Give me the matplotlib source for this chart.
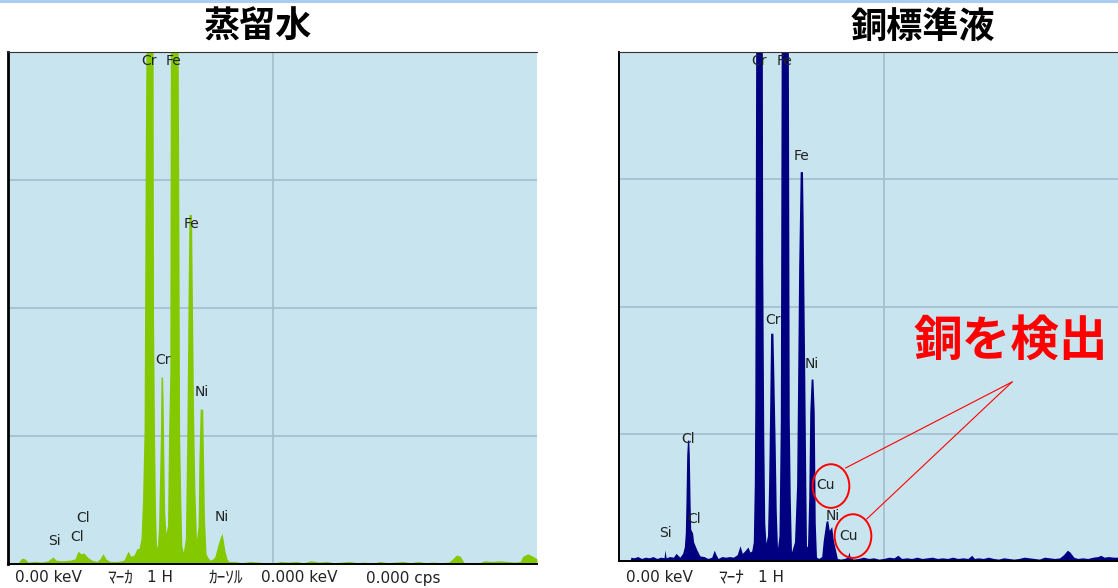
import matplotlib
matplotlib.use('Agg')
import matplotlib.pyplot as plt
from matplotlib.patches import Ellipse, Rectangle

# EDX spectra: energy (keV) vs intensity (grid units, 4 = full scale)
water_kev = [0.00, 0.306, 0.384, 0.463, 0.58, 0.698, 0.973, 1.247, 1.482, 1.678, 1.796, 2.031,
             2.345, 2.541, 2.659, 2.776, 2.894, 3.051, 3.208, 3.404, 3.522, 3.639, 3.757, 3.914,
             4.227, 4.463, 4.62, 4.737, 4.855, 4.973,
             5.051, 5.13, 5.19, 5.25, 5.30, 5.34, 5.60, 5.62, 5.66, 5.70, 5.74,
             5.776, 5.82, 5.86, 5.89, 5.915, 5.975, 5.995, 6.02, 6.06, 6.11,
             6.17, 6.21, 6.26, 6.285, 6.57, 6.595, 6.645, 6.69, 6.73, 6.788,
             6.87, 6.93, 6.97, 7.01, 7.11, 7.13, 7.19, 7.24, 7.306,
             7.37, 7.40, 7.45, 7.55, 7.575, 7.62, 7.68, 7.757,
             7.835, 7.953, 8.031, 8.149, 8.227, 8.306, 8.345, 8.424, 8.502, 8.580,
             8.8, 9.1, 9.4, 9.7, 10.0, 10.3, 10.6, 10.9, 11.2, 11.5, 11.8, 12.1, 12.4, 12.7,
             13.0, 13.3, 13.6, 13.9, 14.2, 14.5, 14.8, 15.1, 15.4, 15.7, 16.0, 16.3, 16.6,
             16.9, 17.2, 17.35, 17.5, 17.65, 17.8, 18.1, 18.4, 18.6, 18.9, 19.2, 19.5, 19.8,
             20.0, 20.1, 20.3, 20.5, 20.66]
water_cps = [0, 0, 0.03, 0.045, 0.04, 0.015, 0.02, 0.015, 0.025, 0.055, 0.03, 0.025,
             0.03, 0.04, 0.10, 0.08, 0.085, 0.05, 0.03, 0.02, 0.04, 0.08, 0.04, 0.02,
             0.02, 0.03, 0.10, 0.06, 0.07, 0.12,
             0.12, 0.2, 0.5, 1.05, 3.3, 4.5, 4.5, 1.95, 1.0, 0.4, 0.13,
             0.15, 0.3, 0.7, 1.0, 1.46, 1.46, 1.3, 0.9, 0.4, 0.24,
             0.3, 1.0, 1.5, 4.5, 4.5, 3.7, 1.0, 0.5, 0.15, 0.09,
             0.2, 1.05, 1.97, 2.73, 2.73, 2.35, 1.2, 0.6, 0.19,
             0.3, 0.8, 1.21, 1.21, 0.9, 0.35, 0.08, 0.05,
             0.03, 0.04, 0.06, 0.15, 0.2, 0.24, 0.2, 0.1, 0.04, 0.02,
             0.02, 0.01, 0.02, 0.015, 0.01, 0.005, 0.02, 0.015, 0.02, 0.01, 0.025, 0.015, 0.02, 0.01,
             0.015, 0.02, 0.01, 0.015, 0.005, 0.02, 0.01, 0.015, 0.02, 0.01, 0.02, 0.01, 0.015,
             0.01, 0.015, 0.04, 0.07, 0.06, 0.01, 0.005, 0.01, 0.025, 0.02, 0.025, 0.02, 0.015,
             0.02, 0.06, 0.08, 0.06, 0.04]

copper_kev = [0.00, 0.35, 0.38, 0.5, 0.65, 0.8, 0.95, 1.1, 1.25, 1.4, 1.55, 1.68, 1.72, 1.76,
              1.9, 2.05, 2.15, 2.25,
              2.30, 2.41, 2.475, 2.514, 2.541, 2.569, 2.60, 2.65, 2.671, 2.70, 2.725, 2.80,
              2.84, 2.961, 3.09,
              3.25, 3.4, 3.55, 3.65, 3.72, 3.8, 3.95, 4.1, 4.25, 4.4, 4.55, 4.66, 4.75, 4.85,
              4.97, 5.05, 5.12,
              5.18, 5.22, 5.24, 5.28, 5.53, 5.55, 5.59, 5.63, 5.678,
              5.737, 5.78, 5.82, 5.86, 5.95, 5.98, 6.04, 6.08, 6.129,
              6.188, 6.24, 6.28, 6.55, 6.59, 6.63, 6.678,
              6.796, 6.88, 6.92, 6.96, 7.02, 7.11, 7.135, 7.20, 7.24, 7.267,
              7.306, 7.355, 7.395, 7.45, 7.52, 7.57, 7.61, 7.659,
              7.75, 7.863, 7.926, 8.031, 8.098, 8.161, 8.255, 8.318, 8.424, 8.475,
              8.6, 8.75, 8.88, 8.93, 8.98, 9.1, 9.3,
              9.5, 9.7, 9.9, 10.1, 10.3, 10.5, 10.7, 10.85, 11.0, 11.2, 11.4, 11.6, 11.8,
              12.0, 12.2, 12.4, 12.6, 12.8, 13.0, 13.2, 13.4, 13.6, 13.75, 13.85, 14.0, 14.2,
              14.4, 14.6, 14.8, 15.0, 15.2, 15.4, 15.6, 15.8, 16.0, 16.2, 16.4, 16.6, 16.8,
              17.0, 17.2, 17.35, 17.5, 17.6, 17.75, 17.9, 18.1, 18.3, 18.5, 18.7, 18.8, 18.95,
              19.1, 19.3, 19.5, 19.7, 20.0, 20.3, 20.66]
copper_cps = [0, 0, 0.03, 0.025, 0.035, 0.02, 0.03, 0.025, 0.035, 0.02, 0.03, 0.025, 0.087, 0.025,
              0.035, 0.03, 0.06, 0.04,
              0.03, 0.06, 0.11, 0.22, 0.48, 0.83, 0.95, 0.95, 0.83, 0.48, 0.25, 0.22,
              0.15, 0.09, 0.04,
              0.035, 0.02, 0.03, 0.085, 0.05, 0.02, 0.035, 0.03, 0.035, 0.03, 0.05, 0.12, 0.06, 0.08,
              0.11, 0.07, 0.08,
              0.15, 0.6, 1.26, 4.5, 4.5, 2.36, 1.0, 0.3, 0.14,
              0.2, 0.6, 1.16, 1.79, 1.79, 1.52, 0.9, 0.4, 0.1,
              0.2, 1.1, 4.5, 4.5, 1.13, 0.5, 0.07,
              0.15, 0.6, 1.43, 2.31, 3.06, 3.06, 2.69, 1.43, 0.6, 0.11,
              0.12, 0.5, 1.17, 1.43, 1.43, 1.17, 0.3, 0.03,
              0.02, 0.035, 0.165, 0.31, 0.32, 0.24, 0.27, 0.165, 0.07, 0.02,
              0.015, 0.02, 0.03, 0.07, 0.03, 0.015, 0.02,
              0.03, 0.02, 0.025, 0.015, 0.02, 0.03, 0.025, 0.045, 0.02, 0.025, 0.02, 0.03, 0.02,
              0.025, 0.03, 0.02, 0.025, 0.02, 0.03, 0.02, 0.025, 0.02, 0.045, 0.02, 0.025, 0.02,
              0.03, 0.02, 0.015, 0.025, 0.02, 0.015, 0.02, 0.03, 0.025, 0.02, 0.015, 0.03, 0.025,
              0.02, 0.025, 0.05, 0.085, 0.07, 0.03, 0.02, 0.025, 0.02, 0.03, 0.035, 0.045, 0.03,
              0.035, 0.03, 0.03, 0.025, 0.03, 0.025, 0.03]

# peak labels (text, keV, height)
water_labels = [("Cr", 5.44, 3.93), ("Fe", 6.42, 3.93), ("Fe", 7.11, 2.66), ("Cr", 5.99, 1.59),
                ("Ni", 7.52, 1.34), ("Si", 1.72, 0.18), ("Cl", 2.85, 0.36), ("Cl", 2.62, 0.21),
                ("Ni", 8.31, 0.37)]
copper_labels = [("Cr", 5.40, 3.93), ("Fe", 6.40, 3.93), ("Fe", 7.07, 3.18), ("Cr", 5.95, 1.89),
                 ("Ni", 7.48, 1.55), ("Cl", 2.62, 0.96), ("Cl", 2.84, 0.33), ("Si", 1.72, 0.22),
                 ("Ni", 8.31, 0.35), ("Cu", 8.03, 0.60), ("Cu", 8.91, 0.20)]
cu_marks = [(8.227, 0.589, 8.80, 0.731), (9.09, 0.196, 9.63, 0.33)]
apex = (15.33, 1.407)

BG = '#c8e4ee'
GRID = '#a3bdca'

fig = plt.figure(figsize=(11.18, 5.88), dpi=100)
fig.add_artist(Rectangle((0, 1 - 3 / 588), 1, 3 / 588, transform=fig.transFigure,
                         color='#a8cdf0', lw=0))

ax1 = fig.add_axes([8 / 1118, 24 / 588, 529 / 1118, 512 / 588])
ax2 = fig.add_axes([619 / 1118, 27 / 588, 529 / 1118, 509 / 588])

for ax, lw_left in ((ax1, 2.0), (ax2, 1.4)):
    ax.set_facecolor(BG)
    ax.set_xlim(-0.086, 20.66)
    ax.set_ylim(0, 4)
    ax.set_xticks([10.3])
    ax.set_yticks([1, 2, 3])
    ax.tick_params(length=0, labelbottom=False, labelleft=False)
    ax.grid(True, color=GRID, lw=1.2)
    ax.set_axisbelow(True)
    ax.spines['right'].set_visible(False)
    ax.spines['left'].set_linewidth(lw_left)
    ax.spines['bottom'].set_linewidth(1.4)
    ax.spines['top'].set_linewidth(0.8)
    ax.spines['top'].set_color('#333333')

ax1.fill_between(water_kev, water_cps, 0, color='#84c800', lw=0, zorder=2)
ax2.fill_between(copper_kev, copper_cps, 0, color='#000080', lw=0, zorder=2)

for ax, labels in ((ax1, water_labels), (ax2, copper_labels)):
    for s, x, y in labels:
        ax.text(x, y, s, ha='center', va='center', fontsize=10, color='#222222', zorder=3)

for cx, cy, lx, ly in cu_marks:
    ax2.add_patch(Ellipse((cx, cy), 1.44, 0.343, fill=False, ec='red', lw=1.4, zorder=4))
    ax2.plot([lx, apex[0]], [ly, apex[1]], color='red', lw=0.8, zorder=4)

ax2.text(15.29, 1.725, "銅を検出", ha='center', va='center', fontsize=35, color='red',
         fontweight='bold', family=['Noto Sans CJK JP'], zorder=5)

fig.text(258 / 1118, 1 - 27 / 588, "蒸留水", ha='center', va='center', fontsize=26,
         fontweight='bold', family=['Noto Sans CJK JP'])
fig.text(923 / 1118, 1 - 27 / 588, "銅標準液", ha='center', va='center', fontsize=26,
         fontweight='bold', family=['Noto Sans CJK JP'])

fam = ['DejaVu Sans', 'Noto Sans CJK JP']
status_left = [("0.00 keV", 15, 11), ("ﾏｰｶ", 107, 12.5), ("1 H", 147, 11), ("ｶｰｿﾙ", 208, 12.5),
               ("0.000 keV", 261, 11), ("0.000 cps", 366, 11)]
status_right = [("0.00 keV", 626, 11), ("ﾏｰﾅ", 718, 12.5), ("1 H", 758, 11)]
for s, px, size in status_left + status_right:
    fig.text(px / 1118, 1 - 578 / 588, s, ha='left', va='center', fontsize=size,
             color='#222222', family=fam)

fig.savefig('out.png', dpi=100, facecolor='white')
